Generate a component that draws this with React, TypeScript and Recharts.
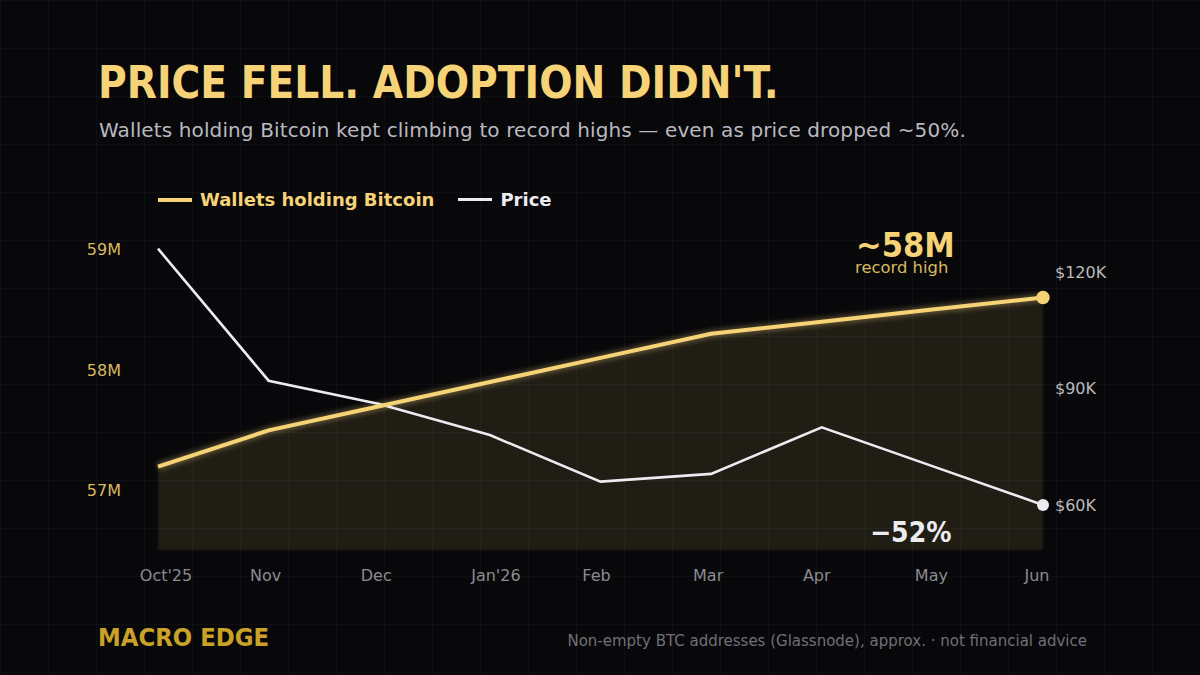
import React from 'react';
import { ComposedChart, Area, Line, XAxis, YAxis, ReferenceDot, Legend } from 'recharts';

const months = ["Oct'25", 'Nov', 'Dec', "Jan'26", 'Feb', 'Mar', 'Apr', 'May', 'Jun'];
const wallets = [57.2, 57.5, 57.7, 57.9, 58.1, 58.3, 58.4, 58.5, 58.6];
const price = [126, 92, 86, 78, 66, 68, 80, 70, 60];
const walletTicks = [57, 58, 59];
const priceTicks = [60, 90, 120];
const tickNudge = [8, -3, -3, 6, -4, -3, -5, -1, -6];

const GOLD = '#f6d377';
const WHITE = '#ecebf0';
const FONT = '"DejaVu Sans", sans-serif';
const CONDENSED = '"DejaVu Sans Condensed", "DejaVu Sans", sans-serif';

const data = months.map((month, i) => ({ month, wallets: wallets[i], price: price[i] }));

function MonthTick({ x, y, payload, index }: any) {
  return (
    <text x={x + tickNudge[index]} y={y} dy={5} textAnchor="middle" fontSize={16} fill="#8b8b90" fontFamily={FONT}>
      {payload.value}
    </text>
  );
}

function LegendRow({ payload }: any) {
  const items = payload
    .filter((p: any) => p.type !== 'none')
    .sort((a: any, b: any) => b.value.localeCompare(a.value));
  return (
    <div style={{ display: 'flex', alignItems: 'center', fontFamily: FONT, fontWeight: 700, fontSize: 18, whiteSpace: 'nowrap' }}>
      {items.map((item: any) => (
        <div key={item.value} style={{ display: 'flex', alignItems: 'center', marginRight: 24, color: item.color }}>
          <span
            style={{
              width: 34,
              height: item.value === 'Price' ? 3 : 4,
              background: item.color,
              marginRight: 8,
              display: 'inline-block',
            }}
          />
          {item.value}
        </div>
      ))}
    </div>
  );
}

function Txt({ x, y, size, color, weight, right, family, spacing, lh, children }: any) {
  const pos = right ? { right: 1200 - x } : { left: x };
  return (
    <div
      style={{
        position: 'absolute',
        ...pos,
        top: y,
        fontFamily: family || FONT,
        fontSize: size,
        color,
        fontWeight: weight || 400,
        letterSpacing: spacing || 0,
        lineHeight: lh || 1,
        whiteSpace: 'nowrap',
      }}
    >
      {children}
    </div>
  );
}

export default function App() {
  const last = months.length - 1;
  return (
    <div
      style={{
        position: 'fixed',
        left: 0,
        top: 0,
        width: 1200,
        height: 675,
        overflow: 'hidden',
        backgroundColor: '#08080b',
        backgroundImage:
          'linear-gradient(to right, rgba(255,255,255,0.028) 1px, transparent 1px), linear-gradient(to bottom, rgba(255,255,255,0.028) 1px, transparent 1px)',
        backgroundSize: '48px 48px',
      }}
    >
      <ComposedChart
        width={1200}
        height={675}
        data={data}
        margin={{ left: 98, right: 97, top: 225, bottom: 65 }}
        style={{ position: 'absolute', left: 0, top: 0 }}
      >
        <XAxis
          dataKey="month"
          scale="point"
          axisLine={false}
          tickLine={false}
          height={60}
          interval={0}
          tick={<MonthTick />}
          tickMargin={20}
        />
        <YAxis
          yAxisId="wallets"
          domain={[56.51, 59.2]}
          ticks={walletTicks}
          width={60}
          axisLine={false}
          tickLine={false}
          tickSize={0}
          tickMargin={37}
          tickFormatter={(v: number) => `${v}M`}
          tick={{ fill: '#d9b95f', fontSize: 16, fontFamily: FONT }}
        />
        <YAxis
          yAxisId="price"
          orientation="right"
          domain={[48.4, 132.1]}
          ticks={priceTicks}
          width={60}
          axisLine={false}
          tickLine={false}
          tickSize={0}
          tickMargin={12}
          tickFormatter={(v: number) => `$${v}K`}
          tick={{ fill: '#b9b9be', fontSize: 16, fontFamily: FONT }}
        />
        {/* centre + middle keeps the legend from taking room off the plot */}
        <Legend
          layout="horizontal"
          verticalAlign="middle"
          align="center"
          content={<LegendRow />}
          wrapperStyle={{ position: 'absolute', left: 158, top: 189, width: 600 }}
        />
        <Area
          yAxisId="wallets"
          dataKey="wallets"
          stroke="none"
          fill={GOLD}
          fillOpacity={0.1}
          baseValue={56.51}
          legendType="none"
          isAnimationActive={false}
          style={{ filter: 'blur(0.8px)' }}
        />
        <Line
          yAxisId="wallets"
          dataKey="wallets"
          stroke={GOLD}
          strokeWidth={8}
          strokeOpacity={0.3}
          dot={false}
          activeDot={false}
          legendType="none"
          isAnimationActive={false}
          style={{ filter: 'blur(2.5px)' }}
        />
        <Line
          yAxisId="price"
          dataKey="price"
          name="Price"
          stroke={WHITE}
          strokeWidth={2.6}
          dot={false}
          isAnimationActive={false}
        />
        <Line
          yAxisId="wallets"
          dataKey="wallets"
          name="Wallets holding Bitcoin"
          stroke={GOLD}
          strokeWidth={4}
          dot={false}
          isAnimationActive={false}
        />
        <ReferenceDot yAxisId="wallets" x={months[last]} y={wallets[last]} r={6.7} fill={GOLD} stroke="none" />
        <ReferenceDot yAxisId="price" x={months[last]} y={price[last]} r={6} fill={WHITE} stroke="none" />
      </ComposedChart>

      <Txt x={98} y={62} size={43.6} color={GOLD} weight={700} family={CONDENSED}>
        PRICE FELL. ADOPTION DIDN'T.
      </Txt>
      <Txt x={99} y={120} size={20} color="#b9b9c0" spacing={0.12}>
        Wallets holding Bitcoin kept climbing to record highs — even as price dropped ~50%.
      </Txt>
      <Txt x={856} y={230} size={34} color={GOLD} weight={700} family={CONDENSED} lh="30px">
        ~58M
      </Txt>
      <Txt x={855} y={261} size={16.4} color="#d9b95f" lh="14px">
        record high
      </Txt>
      <Txt x={870} y={519} size={28} color={WHITE} weight={700} family={CONDENSED}>
        −52%
      </Txt>
      <Txt x={98} y={625} size={25.4} color="#c9a227" weight={700} family={CONDENSED}>
        MACRO EDGE
      </Txt>
      <Txt x={1087} y={634} size={15} color="#707076" right>
        Non-empty BTC addresses (Glassnode), approx. · not financial advice
      </Txt>
    </div>
  );
}
